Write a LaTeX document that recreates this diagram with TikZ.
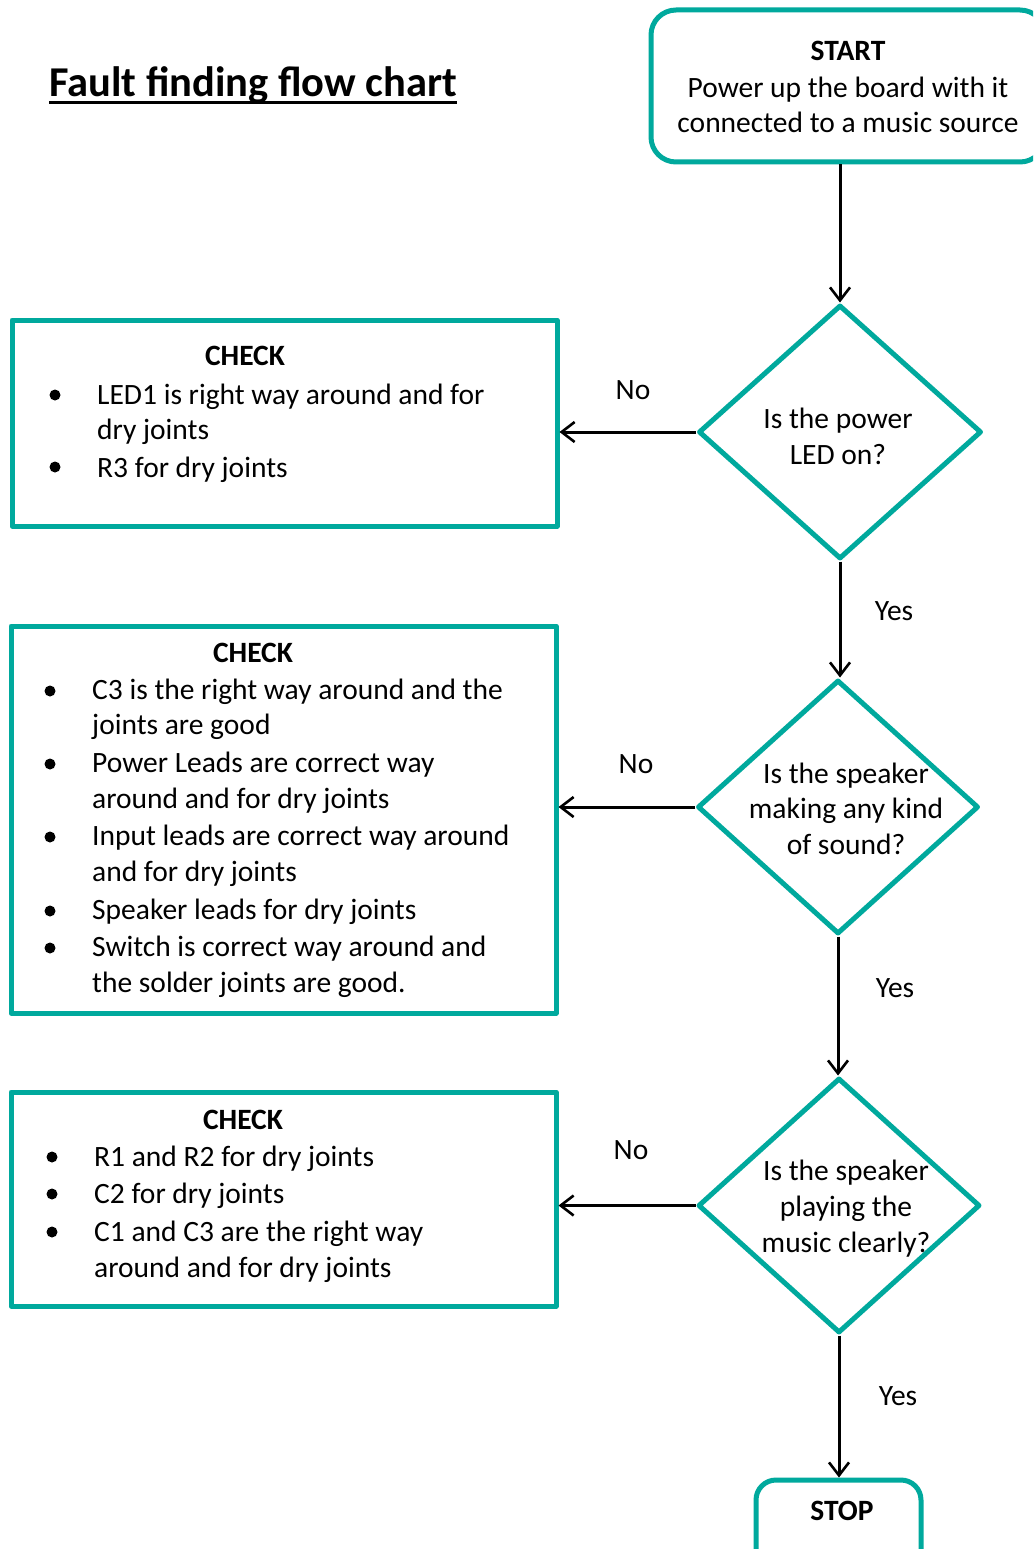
\documentclass[tikz,border=0pt]{standalone}
\usepackage{fontspec}
\setmainfont{Carlito}
\usetikzlibrary{arrows.meta,shapes.geometric}
\definecolor{teal1}{RGB}{0,169,157}
\tikzset{
  txt/.style={inner sep=0pt,font=\fontsize{29.5}{36}\selectfont},
  btxt/.style={txt,font=\fontsize{29.5}{36}\selectfont\bfseries},
  box/.style={draw=teal1,line width=5pt,inner sep=0pt},
  dec/.style={box,diamond,inner sep=0pt},
  flow/.style={line width=3pt,-{Straight Barb[length=13pt,width=20pt,line width=2.6pt]}},
}
\begin{document}
\begin{tikzpicture}[x=1pt,y=-1pt,line join=round]
  \clip (0,0) rectangle (1033,1549);
  \fill[white] (0,0) rectangle (1033,1549);
  % title
  \node[txt,anchor=base west,font=\fontsize{42.5}{46}\selectfont\bfseries] (title) at (49,97) {Fault finding flow chart};
  \draw[line width=3.2pt] ([yshift=-5.5pt]title.base west) -- ([yshift=-5.5pt]title.base east);
  % start and stop
  \node[box,rounded corners=25pt,minimum width=394pt,minimum height=152pt] (start) at (848,86) {};
  \node[btxt,anchor=base] (starttitle) at (848,61) {START};
  \node[txt,anchor=base] (start1) at (848,98) {Power up the board with it};
  \node[txt,anchor=base] (start2) at (848,133) {connected to a music source};
  \node[box,rounded corners=20pt,minimum width=165pt,minimum height=100pt] (stop) at (838.5,1530) {};
  \node[btxt,anchor=base] (stoptext) at (842,1520) {STOP};
  % questions
  \node[dec,minimum width=283pt,minimum height=254pt] (d1) at (840,432) {};
  \node[dec,minimum width=281pt,minimum height=254pt] (d2) at (838,807) {};
  \node[dec,minimum width=282pt,minimum height=255pt] (d3) at (839,1205.5) {};
  \foreach \x/\y/\t in {838/428/Is the power,838/464/LED on?,
                        846/783/Is the speaker,846/818/making any kind,846/854/of sound?,
                        846/1180/Is the speaker,846/1216/playing the,846/1252/music clearly?}
    \node[txt,anchor=base] (q\y) at (\x,\y) {\t};
  % check boxes
  \node[box,minimum width=545pt,minimum height=206pt] (box1) at (284.5,423) {};
  \node[box,minimum width=545pt,minimum height=387pt] (box2) at (283.5,819.5) {};
  \node[box,minimum width=545pt,minimum height=214pt] (box3) at (283.5,1199) {};
  \foreach \x/\y/\n in {245/365/c1,253/662/c2,243/1129/c3}
    \node[btxt,anchor=base] (\n) at (\x,\y) {CHECK};
  \foreach \y/\t in {404/LED1 is right way around and for,439/dry joints,477/R3 for dry joints}
    \node[txt,anchor=base west] (a\y) at (97,\y) {\t};
  \foreach \y/\t in {699/C3 is the right way around and the,734/joints are good,772/Power Leads are correct way,808/around and for dry joints,845/Input leads are correct way around,881/and for dry joints,919/Speaker leads for dry joints,956/Switch is correct way around and,992/the solder joints are good.}
    \node[txt,anchor=base west] (b\y) at (92,\y) {\t};
  \foreach \y/\t in {1166/R1 and R2 for dry joints,1203/C2 for dry joints,1241/C1 and C3 are the right way,1277/around and for dry joints}
    \node[txt,anchor=base west] (e\y) at (94,\y) {\t};
  \foreach \x/\y in {55/395,55/467,50/691,50/764,50/837,50/911,50/948,52/1157,52/1194,52/1232}
    \fill (\x,\y) circle (5.5pt);
  % connectors
  \draw[flow] (start.south -| d1.north) -- (d1.north);
  \draw[flow] (d1.south) -- (d1.south |- d2.north);
  \draw[flow] (d2.south) -- (d2.south |- d3.north);
  \draw[flow] (d3.south) -- (d3.south |- stop.north);
  \draw[flow] (d1.west) -- (d1.west -| box1.east);
  \draw[flow] (d2.west) -- (d2.west -| box2.east);
  \draw[flow] (d3.west) -- (d3.west -| box3.east);
  \foreach \x/\y/\t in {633/399/No,636/773/No,631/1159/No,894/620/Yes,895/997/Yes,898/1405/Yes}
    \node[txt,anchor=base] (l\y) at (\x,\y) {\t};
\end{tikzpicture}
\end{document}
